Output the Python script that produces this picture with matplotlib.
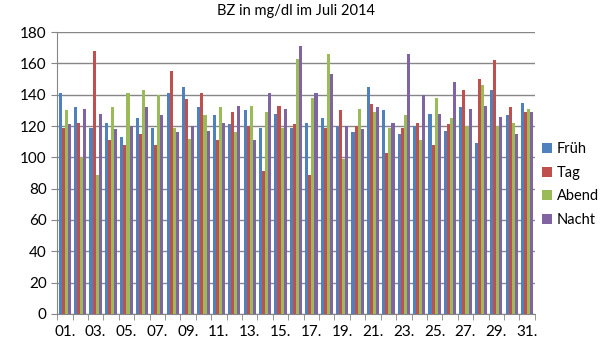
import numpy as np
import matplotlib.pyplot as plt

plt.rcParams['font.family'] = ['Lato', 'DejaVu Sans']

# Blutzucker-Werte Juli 2014
days = [f"{d:02d}." for d in range(1, 32)]
frueh = [141, 132, 119, 122, 113, 125, 119, 141, 145, 132, 127, 121, 130, 119, 128, 119,
         122, 125, 120, 116, 145, 130, 115, 120, 128, 117, 132, 109, 143, 127, 135]
tag = [119, 122, 168, 111, 108, 115, 108, 155, 137, 141, 111, 129, 120, 91, 133, 121,
       89, 119, 130, 120, 134, 103, 119, 122, 108, 121, 143, 150, 162, 132, 129]
abend = [130, 100, 89, 132, 141, 143, 140, 119, 112, 127, 132, 116, 133, 129, 119, 163,
         138, 166, 99, 131, 129, 119, 127, 111, 138, 125, 120, 146, 120, 122, 131]
nacht = [121, 131, 128, 118, 120, 132, 127, 116, 120, 117, 122, 133, 111, 141, 131, 171,
         141, 153, 120, 118, 132, 122, 166, 140, 128, 148, 131, 133, 126, 115, 129]

series = [("Früh", frueh, "#4F81BD"), ("Tag", tag, "#C0504D"),
          ("Abend", abend, "#9BBB59"), ("Nacht", nacht, "#8064A2")]

fig = plt.figure(figsize=(6.14, 3.45), dpi=100)
ax = fig.add_axes([0.093, 0.090, 0.778, 0.817])

x = np.arange(1, len(days) + 1)
w = 0.2
for i, (name, vals, col) in enumerate(series):
    ax.bar(x + (i - 1.5) * w, vals, width=w, color=col, label=name, zorder=3)

ax.set_xlim(0.5, len(days) + 0.5)
ax.set_ylim(0, 180)
ax.set_yticks(range(0, 181, 20))
ax.yaxis.grid(True, color="#868686", linewidth=1, zorder=0)

ax.set_xticks(x[::2])
ax.set_xticklabels(days[::2])
ax.set_xticks(np.arange(0.5, len(days) + 1), minor=True)
ax.tick_params(axis="x", which="major", length=0, labelsize=11, pad=8)
ax.tick_params(axis="x", which="minor", length=4, color="#868686")
ax.tick_params(axis="y", length=4, color="#868686", labelsize=11)

for s in ["top", "right"]:
    ax.spines[s].set_visible(False)
ax.spines["left"].set_color("#868686")
ax.spines["bottom"].set_color("#868686")

ax.set_title("BZ in mg/dl im Juli 2014", fontsize=10.5, pad=12)

fig.legend(loc="center left", bbox_to_anchor=(0.883, 0.465), frameon=False,
           fontsize=10.5, handlelength=0.7, handleheight=0.7, handletextpad=0.3,
           labelspacing=0.65, borderaxespad=0, borderpad=0)

fig.savefig("out.png", dpi=100)
